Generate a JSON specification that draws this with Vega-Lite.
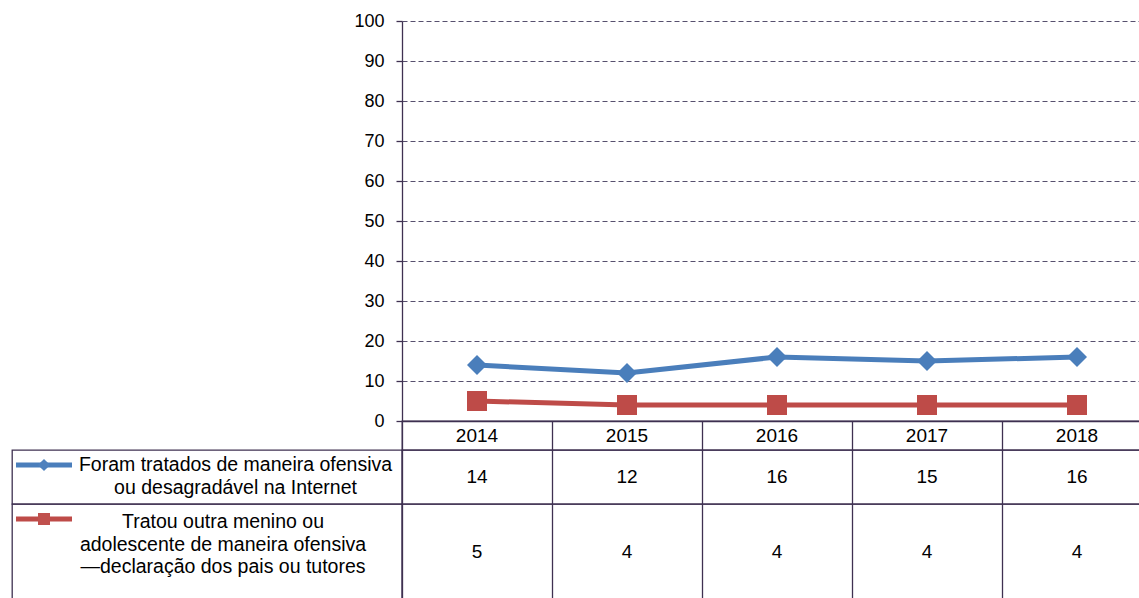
{
  "$schema": "https://vega.github.io/schema/vega-lite/v6.json",
  "padding": {"left": 5, "top": 12, "right": 0, "bottom": 0},
  "config": {
    "font": "Liberation Sans",
    "view": {"stroke": null},
    "axis": {"labelFont": "Liberation Sans", "labelFontSize": 18, "labelColor": "#000000", "title": null},
    "text": {"font": "Liberation Sans", "fontSize": 19, "color": "#000000"}
  },
  "datasets": {
    "points": [
      {"year": "2014", "serie": "A", "value": 14},
      {"year": "2015", "serie": "A", "value": 12},
      {"year": "2016", "serie": "A", "value": 16},
      {"year": "2017", "serie": "A", "value": 15},
      {"year": "2018", "serie": "A", "value": 16},
      {"year": "2014", "serie": "B", "value": 5},
      {"year": "2015", "serie": "B", "value": 4},
      {"year": "2016", "serie": "B", "value": 4},
      {"year": "2017", "serie": "B", "value": 4},
      {"year": "2018", "serie": "B", "value": 4}
    ],
    "series": [
      {"serie": "A", "label": "Foram tratados de maneira ofensiva\nou desagradável na Internet"},
      {"serie": "B", "label": "Tratou outra menino ou\nadolescente de maneira ofensiva\n—declaração dos pais ou tutores"}
    ]
  },
  "columns": 2,
  "spacing": 0,
  "bounds": "flush",
  "concat": [
    {
      "width": 390,
      "height": 400,
      "data": {"values": [{}]},
      "mark": {"type": "text", "text": ""},
      "encoding": {}
    },
    {
      "width": 750,
      "height": 400,
      "data": {"name": "points"},
      "encoding": {
        "x": {
          "field": "year", "type": "ordinal",
          "scale": {"type": "point", "padding": 0.5},
          "axis": {"labels": false, "ticks": false, "grid": false, "domainColor": "#3f3151", "domainWidth": 1.3}
        },
        "y": {
          "field": "value", "type": "quantitative",
          "scale": {"domain": [0, 100], "nice": false},
          "axis": {
            "values": [0, 10, 20, 30, 40, 50, 60, 70, 80, 90, 100],
            "grid": true, "gridDash": [5, 3], "gridColor": "#57506e", "gridWidth": 1,
            "domainColor": "#3f3151", "domainWidth": 1.3,
            "tickColor": "#3f3151", "tickSize": 6, "tickWidth": 1.3,
            "labelPadding": 12
          }
        },
        "color": {
          "field": "serie", "type": "nominal",
          "scale": {"domain": ["A", "B"], "range": ["#4a7ebb", "#be4b48"]},
          "legend": null
        }
      },
      "layer": [
        {"mark": {"type": "line", "strokeWidth": 5}},
        {
          "mark": {"type": "point", "filled": true, "opacity": 1, "size": 400},
          "encoding": {
            "shape": {
              "field": "serie", "type": "nominal",
              "scale": {"domain": ["A", "B"], "range": ["diamond", "square"]},
              "legend": null
            },
            "color": {
              "field": "serie", "type": "nominal",
              "scale": {"domain": ["A", "B"], "range": ["#4f81bd", "#c0504d"]},
              "legend": null
            }
          }
        }
      ]
    },
    {
      "width": 390,
      "height": 29,
      "data": {"values": [{}]},
      "mark": {"type": "text", "text": ""},
      "encoding": {}
    },
    {
      "width": 750,
      "height": 29,
      "view": {"stroke": "#3f3151", "strokeWidth": 1.3},
      "data": {"name": "points"},
      "transform": [{"filter": "datum.serie === 'A'"}],
      "mark": {"type": "text", "baseline": "middle"},
      "encoding": {
        "x": {
          "field": "year", "type": "ordinal",
          "scale": {"type": "band", "paddingInner": 0, "paddingOuter": 0},
          "axis": {"domain": false, "labels": false, "ticks": false, "grid": true, "bandPosition": 0, "gridColor": "#3f3151", "gridWidth": 1.3}
        },
        "text": {"field": "year"}
      }
    },
    {
      "width": 390,
      "height": 54,
      "view": {"stroke": "#3f3151", "strokeWidth": 1.3},
      "data": {"name": "series"},
      "transform": [{"filter": "datum.serie === 'A'"}],
      "layer": [
        {
          "mark": {"type": "text", "fontSize": 19.5, "align": "center", "baseline": "middle", "lineBreak": "\n", "lineHeight": 23, "dx": 28.5, "dy": -12},
          "encoding": {"text": {"field": "label"}}
        },
        {
          "mark": {"type": "point", "shape": "stroke", "size": 3136, "strokeWidth": 5, "stroke": "#4a7ebb", "opacity": 1, "xOffset": -163, "yOffset": -12},
          "encoding": {}
        },
        {
          "mark": {"type": "point", "shape": "diamond", "size": 150, "filled": true, "color": "#4f81bd", "opacity": 1, "xOffset": -163, "yOffset": -12},
          "encoding": {}
        }
      ]
    },
    {
      "width": 750,
      "height": 54,
      "view": {"stroke": "#3f3151", "strokeWidth": 1.3},
      "data": {"name": "points"},
      "transform": [{"filter": "datum.serie === 'A'"}],
      "mark": {"type": "text", "baseline": "middle"},
      "encoding": {
        "x": {
          "field": "year", "type": "ordinal",
          "scale": {"type": "band", "paddingInner": 0, "paddingOuter": 0},
          "axis": {"domain": false, "labels": false, "ticks": false, "grid": true, "bandPosition": 0, "gridColor": "#3f3151", "gridWidth": 1.3}
        },
        "text": {"field": "value", "type": "quantitative", "format": ".0f"}
      }
    },
    {
      "width": 390,
      "height": 96,
      "view": {"stroke": "#3f3151", "strokeWidth": 1.3},
      "data": {"name": "series"},
      "transform": [{"filter": "datum.serie === 'B'"}],
      "layer": [
        {
          "mark": {"type": "text", "fontSize": 19.5, "align": "center", "baseline": "middle", "lineBreak": "\n", "lineHeight": 22.5, "dx": 16, "dy": -30},
          "encoding": {"text": {"field": "label"}}
        },
        {
          "mark": {"type": "point", "shape": "stroke", "size": 3136, "strokeWidth": 5, "stroke": "#be4b48", "opacity": 1, "xOffset": -163, "yOffset": -33},
          "encoding": {}
        },
        {
          "mark": {"type": "point", "shape": "square", "size": 144, "filled": true, "color": "#c0504d", "opacity": 1, "xOffset": -163, "yOffset": -33},
          "encoding": {}
        }
      ]
    },
    {
      "width": 750,
      "height": 96,
      "view": {"stroke": "#3f3151", "strokeWidth": 1.3},
      "data": {"name": "points"},
      "transform": [{"filter": "datum.serie === 'B'"}],
      "mark": {"type": "text", "baseline": "middle"},
      "encoding": {
        "x": {
          "field": "year", "type": "ordinal",
          "scale": {"type": "band", "paddingInner": 0, "paddingOuter": 0},
          "axis": {"domain": false, "labels": false, "ticks": false, "grid": true, "bandPosition": 0, "gridColor": "#3f3151", "gridWidth": 1.3}
        },
        "text": {"field": "value", "type": "quantitative", "format": ".0f"}
      }
    }
  ]
}
